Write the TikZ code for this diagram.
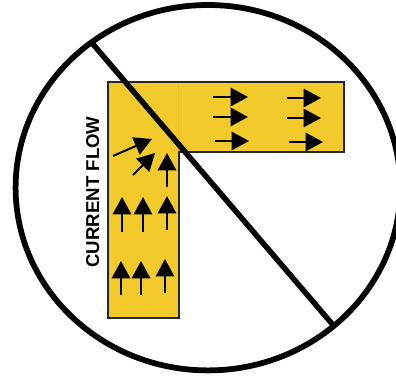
\documentclass[tikz,border=0pt]{standalone}
\usepackage{fontspec}
\setmainfont{Liberation Sans}
\usepackage{xcolor}
\usetikzlibrary{arrows.meta, positioning}
\definecolor{traceyellow}{HTML}{F3CA2C}
\definecolor{traceseam}{HTML}{E9BE22}
\tikzset{
  flowarrow/.style={-{Triangle[length=0.35cm, width=0.37cm]}, line width=0.04cm, black},
  ringline/.style={line width=0.115cm, black},
  barline/.style={line width=0.11cm, black},
}
\begin{document}
\begin{tikzpicture}[x=0.02cm, y=-0.02cm]
  \useasboundingbox (0,0) rectangle (396,378);
  % Corner trace, L shape
  \coordinate (t1) at (108,82);
  \coordinate (t2) at (344,82);
  \coordinate (t3) at (344,152);
  \coordinate (t4) at (179,152);
  \coordinate (t5) at (179,318);
  \coordinate (t6) at (108,318);
  \filldraw[fill=traceyellow, draw=black!85, line width=0.04cm] (t1) -- (t2) -- (t3) -- (t4) -- (t5) -- (t6) -- cycle;
  \draw[traceseam, line width=0.02cm] (178,83) -- (178,151);
  % Arrows in the vertical leg
  \foreach \xa/\ya/\xb/\yb in {121/295/121/261, 141/295/141/261, 165/293/165/259,
                               122/232/122/197, 143/232/143/197, 167/230/167/196,
                               167/187/167/153, 133/175/155/153, 113/156/152/139} {
    \draw[flowarrow] (\xa,\ya) -- (\xb,\yb);
  }
  % Arrows in the horizontal leg
  \foreach \xa/\ya/\xb/\yb in {213/97/248/97, 213/117/248/117, 215/141/249/141,
                               287/98/321/98, 287/118/321/118, 289/142/323/142} {
    \draw[flowarrow] (\xa,\ya) -- (\xb,\yb);
  }
  \node[rotate=90, anchor=base, inner sep=0pt, font=\fontsize{10.6pt}{12pt}\selectfont\bfseries] (flowlabel) at (99,192) {CURRENT FLOW};
  % Prohibition ring and bar
  \coordinate (ringcenter) at (208,187.7);
  \draw[ringline] (ringcenter) ellipse (192.4 and 182.7);
  \coordinate (barstart) at (92,43);
  \coordinate (barend) at (333,325);
  \draw[barline] (barstart) -- (barend);
\end{tikzpicture}
\end{document}
